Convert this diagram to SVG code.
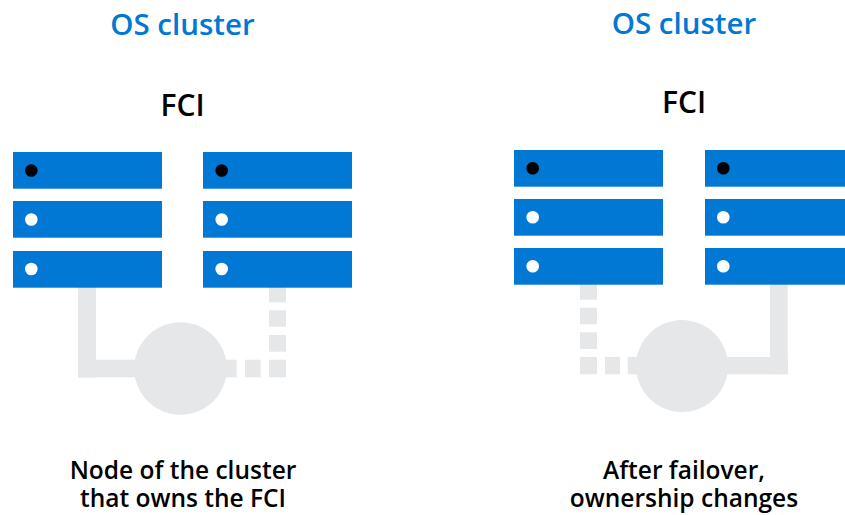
<svg xmlns="http://www.w3.org/2000/svg" width="845" height="515" viewBox="0 0 845 515">
<style>
.title{font-family:"Open Sans","Liberation Sans",sans-serif;font-weight:600;font-size:29.5px;fill:#0078D4;text-anchor:middle}
.fci{font-family:"Open Sans","Liberation Sans",sans-serif;font-weight:600;font-size:30px;fill:#000;text-anchor:middle}
.cap{font-family:"Open Sans","Liberation Sans",sans-serif;font-weight:600;font-size:24.5px;fill:#000;text-anchor:middle}
.srv{fill:#0078D4}
.on{fill:#000}
.off{fill:#fff}
.wire{fill:#E6E7E8}
</style>
<rect width="845" height="515" fill="#fff"/>
<g id="labels">
<text class="title" x="182.5" y="35">OS cluster</text>
<text class="title" x="684" y="34">OS cluster</text>
<text class="fci" x="182.5" y="116">FCI</text>
<text class="fci" x="684" y="113">FCI</text>
<text class="cap" x="183" y="479">Node of the cluster<tspan x="183" dy="28">that owns the FCI</tspan></text>
<text class="cap" x="684" y="479">After failover,<tspan x="684" dy="28">ownership changes</tspan></text>
</g>
<g id="connectors">
<!-- left panel: solid owner link -->
<rect class="wire" x="78" y="287" width="18" height="90.5"/>
<rect class="wire" x="78" y="359.7" width="70" height="17.6"/>
<!-- left panel: dashed link -->
<rect class="wire" x="215" y="359.7" width="21.7" height="17.6"/>
<rect class="wire" x="245" y="359.7" width="15.7" height="17.6"/>
<rect class="wire" x="269" y="359.7" width="17" height="17.6"/>
<rect class="wire" x="269" y="335" width="17" height="16.7"/>
<rect class="wire" x="269" y="310.3" width="17" height="16.4"/>
<rect class="wire" x="269" y="287" width="17" height="15.3"/>
<!-- right panel: dashed link -->
<rect class="wire" x="580" y="284" width="17" height="15.7"/>
<rect class="wire" x="580" y="307.7" width="17" height="16.6"/>
<rect class="wire" x="580" y="332.3" width="17" height="16.7"/>
<rect class="wire" x="580" y="357" width="17" height="17.3"/>
<rect class="wire" x="605" y="357" width="15" height="17.3"/>
<rect class="wire" x="627.7" y="357" width="25" height="17.3"/>
<!-- right panel: solid owner link -->
<rect class="wire" x="700" y="357" width="87.7" height="17.3"/>
<rect class="wire" x="770" y="284" width="17.7" height="90.3"/>
</g>
<g id="storage-left">
<circle class="wire" cx="180.5" cy="368.5" r="46.3"/>
</g>
<g id="storage-right">
<circle class="wire" cx="682" cy="366" r="46"/>
</g>
<g id="node-left-a">
<rect class="srv" x="13" y="152" width="149" height="36.7"/>
<rect class="srv" x="13" y="201" width="149" height="36.7"/>
<rect class="srv" x="13" y="251" width="149" height="36.7"/>
<circle class="on" cx="31.3" cy="170.5" r="6.3"/>
<circle class="off" cx="31.3" cy="219.5" r="6.3"/>
<circle class="off" cx="31.3" cy="269" r="6.3"/>
</g>
<g id="node-left-b">
<rect class="srv" x="203" y="152" width="149" height="36.7"/>
<rect class="srv" x="203" y="201" width="149" height="36.7"/>
<rect class="srv" x="203" y="251" width="149" height="36.7"/>
<circle class="on" cx="221.7" cy="170.5" r="6.3"/>
<circle class="off" cx="221.7" cy="219.5" r="6.3"/>
<circle class="off" cx="221.7" cy="269" r="6.3"/>
</g>
<g id="node-right-a">
<rect class="srv" x="514" y="150" width="149" height="36.7"/>
<rect class="srv" x="514" y="199" width="149" height="36.7"/>
<rect class="srv" x="514" y="248" width="149" height="36.7"/>
<circle class="on" cx="532.7" cy="168.3" r="6.3"/>
<circle class="off" cx="532.7" cy="217.3" r="6.3"/>
<circle class="off" cx="532.7" cy="266.3" r="6.3"/>
</g>
<g id="node-right-b">
<rect class="srv" x="705" y="150" width="149" height="36.7"/>
<rect class="srv" x="705" y="199" width="149" height="36.7"/>
<rect class="srv" x="705" y="248" width="149" height="36.7"/>
<circle class="on" cx="723.3" cy="168.3" r="6.3"/>
<circle class="off" cx="723.3" cy="217.3" r="6.3"/>
<circle class="off" cx="723.3" cy="266.3" r="6.3"/>
</g>
</svg>
